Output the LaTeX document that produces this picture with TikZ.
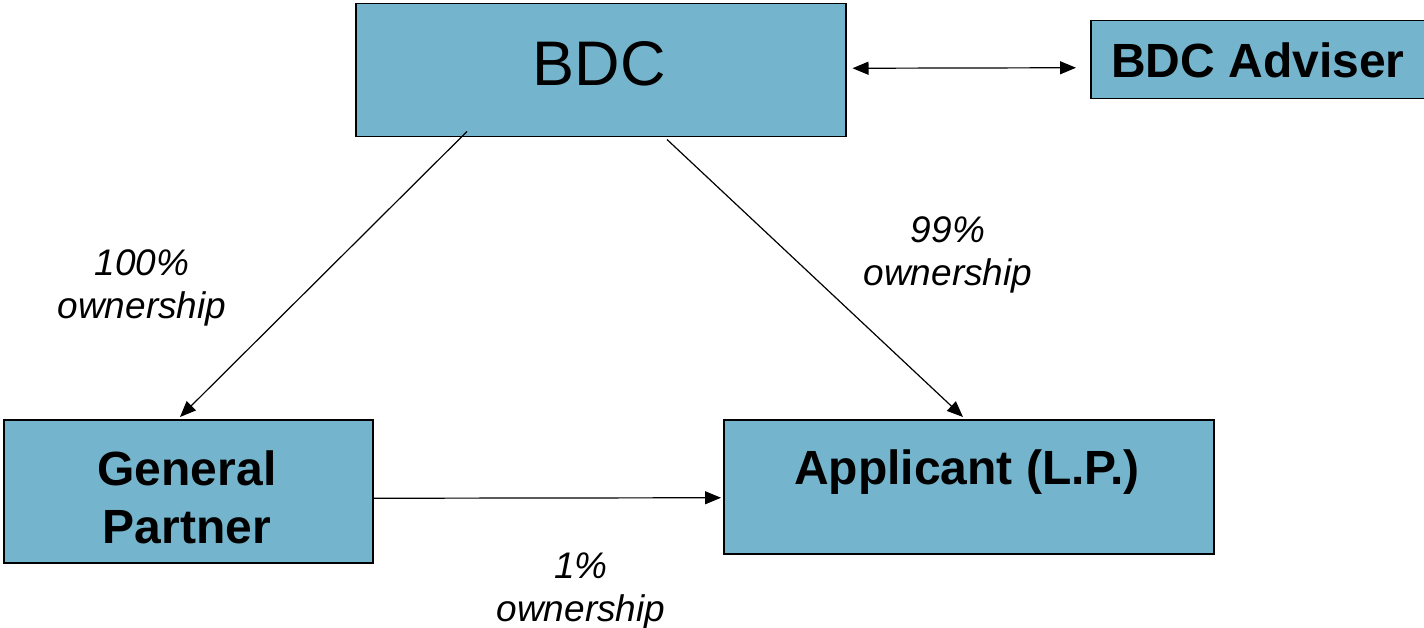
\documentclass[tikz,border=0pt]{standalone}
\usepackage{fontspec}
\setmainfont{Liberation Sans}
\usetikzlibrary{arrows.meta,calc}
\definecolor{boxblue}{RGB}{116,181,205}
\tikzset{
  box/.style={draw=black, line width=1.5pt, fill=boxblue, inner sep=0pt, anchor=north west},
  conn/.style={line width=1.2pt, -{Triangle[length=16pt,width=13pt]}},
  lbl/.style={font=\itshape\fontsize{37}{43}\selectfont, align=center},
  bold/.style={font=\bfseries\fontsize{48}{58}\selectfont, align=center}
}
\begin{document}
\begin{tikzpicture}[x=1pt,y=-1pt]
\useasboundingbox (0,0) rectangle (1424,628);
\node[box, minimum width=490pt, minimum height=133pt] (bdc) at (355,3) {};
\node[font=\fontsize{63}{70}\selectfont] (bdct) at (599,64) {BDC};
\node[box, minimum width=340pt, minimum height=78pt] (adv) at (1090,20) {};
\node[bold] (advt) at (1258,60) {BDC Adviser};
\node[box, minimum width=369pt, minimum height=143pt] (gp) at (3,419) {};
\node[bold] (gpt) at (187,497) {General\\Partner};
\node[box, minimum width=490pt, minimum height=134pt] (app) at (723,419) {};
\node[bold] (appt) at (967,472) {Applicant (L.P.)};
\node[lbl] (l1) at (142,288) {100\%\\ownership};
\node[lbl] (l2) at (948,255) {99\%\\ownership};
\node[lbl] (l3) at (581,591) {1\%\\ownership};
\draw[conn, {Triangle[length=16pt,width=13pt]}-{Triangle[length=16pt,width=13pt]}] ($(bdc.east)+(6,-2)$) -- ($(adv.west)+(-14,8)$);
\draw[conn] ($(bdc.south west)+(112,-6)$) -- ($(gp.north west)+(177,-2)$);
\draw[conn] ($(bdc.south west)+(312,2)$) -- ($(app.north west)+(240,-2)$);
\draw[conn] ($(gp.east)+(0,7)$) -- ($(app.west)+(-2,11)$);
\end{tikzpicture}
\end{document}
